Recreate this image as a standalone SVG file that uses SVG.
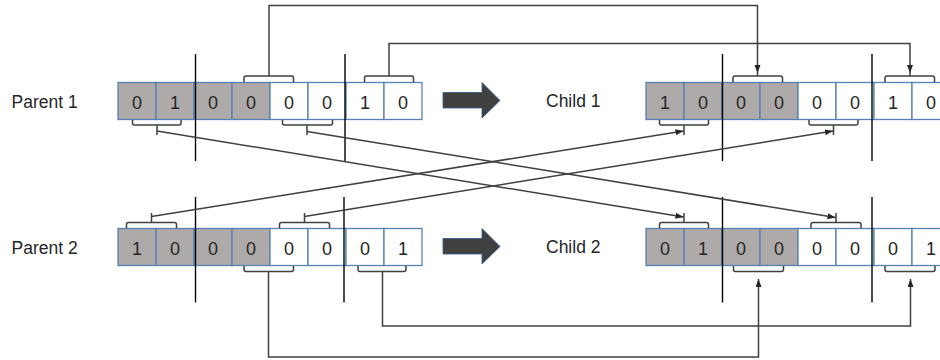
<svg xmlns="http://www.w3.org/2000/svg" width="940" height="360" viewBox="0 0 940 360">
  <defs>
    <marker id="tip" markerWidth="9" markerHeight="7" refX="8" refY="3" orient="auto" markerUnits="userSpaceOnUse">
      <path d="M0,0 L8,3 L0,6 z" fill="#262626"/>
    </marker>
    <style>
      .bg { fill: #ffffff; }
      .cell { stroke: #5681b4; stroke-width: 1.3; }
      .g { fill: #aeaaaa; }
      .w { fill: #ffffff; }
      .dig { font-family: "Liberation Sans", Arial, sans-serif; font-size: 18px; fill: #262626; text-anchor: middle; }
      .lbl { font-family: "Liberation Sans", Arial, sans-serif; font-size: 17.5px; fill: #262626; }
      .cut { stroke: #000000; stroke-width: 1.4; fill: none; }
      .br { stroke: #404040; stroke-width: 1.5; fill: none; }
      .wire { stroke: #404040; stroke-width: 1.5; fill: none; }
      .big { fill: #404040; stroke: #2e5a8a; stroke-width: 0.8; }
    </style>
  </defs>

  <rect class="bg" x="0" y="0" width="940" height="360"/>

  <!-- Parent 1 chromosome -->
  <g id="parent1">
    <text class="lbl" x="11.5" y="107.5">Parent 1</text>
    <rect class="cell g" x="118" y="82.5" width="38" height="37"/>
    <rect class="cell g" x="156" y="82.5" width="38" height="37"/>
    <rect class="cell g" x="194" y="82.5" width="38" height="37"/>
    <rect class="cell g" x="232" y="82.5" width="38" height="37"/>
    <rect class="cell w" x="270" y="82.5" width="38" height="37"/>
    <rect class="cell w" x="308" y="82.5" width="38" height="37"/>
    <rect class="cell w" x="346" y="82.5" width="38" height="37"/>
    <rect class="cell w" x="384" y="82.5" width="38" height="37"/>
    <text class="dig" x="137" y="108.5">0</text>
    <text class="dig" x="175" y="108.5">1</text>
    <text class="dig" x="213" y="108.5">0</text>
    <text class="dig" x="251" y="108.5">0</text>
    <text class="dig" x="289" y="108.5">0</text>
    <text class="dig" x="327" y="108.5">0</text>
    <text class="dig" x="365" y="108.5">1</text>
    <text class="dig" x="403" y="108.5">0</text>
    <line class="cut" x1="195.5" y1="54" x2="195.5" y2="161"/>
    <line class="cut" x1="345" y1="54" x2="345" y2="161"/>
    <!-- braces above -->
    <path class="br" d="M244,82 V78 Q244,76 246,76 H291.5 Q293.5,76 293.5,78 V82 M269,76 V70"/>
    <path class="br" d="M364.5,82 V78 Q364.5,76 366.5,76 H411.5 Q413.5,76 413.5,78 V82 M389,76 V70"/>
    <!-- braces below -->
    <path class="br" d="M132.5,120 V123 Q132.5,125 134.5,125 H179 Q181,125 181,123 V120 M157,125 V135"/>
    <path class="br" d="M282.5,120 V123 Q282.5,125 284.5,125 H330.5 Q332.5,125 332.5,123 V120 M307,125 V135"/>
  </g>

  <!-- Parent 2 chromosome -->
  <g id="parent2">
    <text class="lbl" x="11.5" y="254">Parent 2</text>
    <rect class="cell g" x="118" y="228.5" width="38" height="37"/>
    <rect class="cell g" x="156" y="228.5" width="38" height="37"/>
    <rect class="cell g" x="194" y="228.5" width="38" height="37"/>
    <rect class="cell g" x="232" y="228.5" width="38" height="37"/>
    <rect class="cell w" x="270" y="228.5" width="38" height="37"/>
    <rect class="cell w" x="308" y="228.5" width="38" height="37"/>
    <rect class="cell w" x="346" y="228.5" width="38" height="37"/>
    <rect class="cell w" x="384" y="228.5" width="38" height="37"/>
    <text class="dig" x="137" y="254.5">1</text>
    <text class="dig" x="175" y="254.5">0</text>
    <text class="dig" x="213" y="254.5">0</text>
    <text class="dig" x="251" y="254.5">0</text>
    <text class="dig" x="289" y="254.5">0</text>
    <text class="dig" x="327" y="254.5">0</text>
    <text class="dig" x="365" y="254.5">0</text>
    <text class="dig" x="403" y="254.5">1</text>
    <line class="cut" x1="195.5" y1="197" x2="195.5" y2="302.5"/>
    <line class="cut" x1="344" y1="197" x2="344" y2="302.5"/>
    <!-- braces above -->
    <path class="br" d="M126.5,228 V224.5 Q126.5,222.5 128.5,222.5 H174.5 Q176.5,222.5 176.5,224.5 V228 M151.5,222.5 V213"/>
    <path class="br" d="M279.5,228 V224.5 Q279.5,222.5 281.5,222.5 H327.5 Q329.5,222.5 329.5,224.5 V228 M304.5,222.5 V213"/>
    <!-- braces below -->
    <path class="br" d="M244,266 V269.5 Q244,271.5 246,271.5 H291.5 Q293.5,271.5 293.5,269.5 V266"/>
    <path class="br" d="M358,266 V269.5 Q358,271.5 360,271.5 H404 Q406,271.5 406,269.5 V266"/>
  </g>

  <!-- Child 1 chromosome -->
  <g id="child1">
    <text class="lbl" x="546" y="107">Child 1</text>
    <rect class="cell g" x="646" y="82.5" width="38" height="37"/>
    <rect class="cell g" x="684" y="82.5" width="38" height="37"/>
    <rect class="cell g" x="722" y="82.5" width="38" height="37"/>
    <rect class="cell g" x="760" y="82.5" width="38" height="37"/>
    <rect class="cell w" x="798" y="82.5" width="38" height="37"/>
    <rect class="cell w" x="836" y="82.5" width="38" height="37"/>
    <rect class="cell w" x="874" y="82.5" width="38" height="37"/>
    <rect class="cell w" x="912" y="82.5" width="38" height="37"/>
    <text class="dig" x="665" y="108.5">1</text>
    <text class="dig" x="703" y="108.5">0</text>
    <text class="dig" x="741" y="108.5">0</text>
    <text class="dig" x="779" y="108.5">0</text>
    <text class="dig" x="817" y="108.5">0</text>
    <text class="dig" x="855" y="108.5">0</text>
    <text class="dig" x="893" y="108.5">1</text>
    <text class="dig" x="931" y="108.5">0</text>
    <line class="cut" x1="722.5" y1="54" x2="722.5" y2="161"/>
    <line class="cut" x1="872" y1="54" x2="872" y2="161"/>
    <!-- braces above -->
    <path class="br" d="M733,82 V78 Q733,76 735,76 H780.5 Q782.5,76 782.5,78 V82 M757.5,76 V73"/>
    <path class="br" d="M885,82 V78 Q885,76 887,76 H932.5 Q934.5,76 934.5,78 V82 M910,76 V73"/>
    <!-- braces below -->
    <path class="br" d="M659.5,120 V123 Q659.5,125 661.5,125 H706.5 Q708.5,125 708.5,123 V120 M684,125 V135"/>
    <path class="br" d="M809,120 V123 Q809,125 811,125 H856 Q858,125 858,123 V120 M833.5,125 V135"/>
  </g>

  <!-- Child 2 chromosome -->
  <g id="child2">
    <text class="lbl" x="546" y="253">Child 2</text>
    <rect class="cell g" x="646" y="228.5" width="38" height="37"/>
    <rect class="cell g" x="684" y="228.5" width="38" height="37"/>
    <rect class="cell g" x="722" y="228.5" width="38" height="37"/>
    <rect class="cell g" x="760" y="228.5" width="38" height="37"/>
    <rect class="cell w" x="798" y="228.5" width="38" height="37"/>
    <rect class="cell w" x="836" y="228.5" width="38" height="37"/>
    <rect class="cell w" x="874" y="228.5" width="38" height="37"/>
    <rect class="cell w" x="912" y="228.5" width="38" height="37"/>
    <text class="dig" x="665" y="254.5">0</text>
    <text class="dig" x="703" y="254.5">1</text>
    <text class="dig" x="741" y="254.5">0</text>
    <text class="dig" x="779" y="254.5">0</text>
    <text class="dig" x="817" y="254.5">0</text>
    <text class="dig" x="855" y="254.5">0</text>
    <text class="dig" x="893" y="254.5">0</text>
    <text class="dig" x="931" y="254.5">1</text>
    <line class="cut" x1="722.5" y1="197" x2="722.5" y2="302.5"/>
    <line class="cut" x1="872" y1="197" x2="872" y2="302.5"/>
    <!-- braces above -->
    <path class="br" d="M659.5,228 V224.5 Q659.5,222.5 661.5,222.5 H706.5 Q708.5,222.5 708.5,224.5 V228 M684,222.5 V213"/>
    <path class="br" d="M811,228 V224.5 Q811,222.5 813,222.5 H859 Q861,222.5 861,224.5 V228 M836,222.5 V213"/>
    <!-- braces below -->
    <path class="br" d="M733.5,266 V269.5 Q733.5,271.5 735.5,271.5 H781.5 Q783.5,271.5 783.5,269.5 V266"/>
    <path class="br" d="M885,266 V269.5 Q885,271.5 887,271.5 H933 Q935,271.5 935,269.5 V266"/>
  </g>

  <!-- block arrows between parents and children -->
  <g id="arrow1">
    <polygon class="big" points="443,92.5 482,92.5 482,82.5 500,100.5 482,118 482,108 443,108"/>
  </g>
  <g id="arrow2">
    <polygon class="big" points="443,238.5 482,238.5 482,228.5 500,246.5 482,264 482,254 443,254"/>
  </g>

  <!-- crossover connectors -->
  <g id="connectors">
    <path class="wire" d="M269,70 V5.5 H757.5 V73" marker-end="url(#tip)"/>
    <path class="wire" d="M389,70 V43.5 H910 V73" marker-end="url(#tip)"/>
    <path class="wire" d="M157,131 L683.5,217" marker-end="url(#tip)"/>
    <path class="wire" d="M307,131.5 L835.5,217.5" marker-end="url(#tip)"/>
    <path class="wire" d="M151.5,216.5 L683.5,131" marker-end="url(#tip)"/>
    <path class="wire" d="M304.5,216.5 L833,131" marker-end="url(#tip)"/>
    <path class="wire" d="M268.5,271.5 V357 H758.5 V279" marker-end="url(#tip)"/>
    <path class="wire" d="M382.5,271.5 V326 H910.5 V279" marker-end="url(#tip)"/>
  </g>
</svg>
